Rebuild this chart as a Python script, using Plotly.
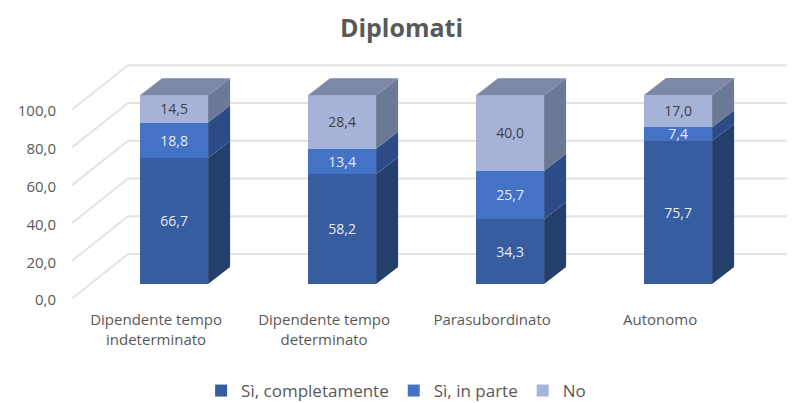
import plotly.graph_objects as go

# ---------------- data ----------------
categories = ["Dipendente tempo indeterminato", "Dipendente tempo determinato",
              "Parasubordinato", "Autonomo"]
tick_labels = ["Dipendente tempo<br>indeterminato", "Dipendente tempo<br>determinato",
               "Parasubordinato", "Autonomo"]
series_names = ["Sì, completamente", "Sì, in parte", "No"]
si_completamente = [66.7, 58.2, 34.3, 75.7]
si_in_parte = [18.8, 13.4, 25.7, 7.4]
no_vals = [14.5, 28.4, 40.0, 17.0]
y_ticks = [0, 20, 40, 60, 80, 100]

# ---------------- style ----------------
FONT = "Open Sans"
front_colors = ["#375C9F", "#4472C4", "#A6B4DA"]
side_colors = ["#243F6C", "#2C4C88", "#6C7996"]
top_color = "#7D88A8"
text_colors = ["#E4EAF5", "#E4EAF5", "#404040"]
grid_color = "#E3E3E3"

W, H = 787, 395           # page body adds an 8px margin
bar_w = 0.405
dx = 0.131      # depth offset in x units
dy = 9.0        # depth offset in y units
wall_front_x, wall_back_x = -0.607, -0.274
wall_front_off, wall_back_off = -7.6, 15.9
x_range = [-0.679, 3.696]
y_range = [-10, 125]

xs = list(range(len(categories)))
series = [si_completamente, si_in_parte, no_vals]

fig = go.Figure()

# front faces
for name, vals, fc, tc in zip(series_names, series, front_colors, text_colors):
    fig.add_trace(go.Bar(
        x=xs, y=vals, name=name, width=bar_w,
        marker=dict(color=fc, line=dict(width=0)),
        text=vals, texttemplate="%{y:.1f}", textposition="inside",
        insidetextanchor="middle",
        textfont=dict(family=FONT, size=16, color=tc),
        hoverinfo="skip",
    ))

# side faces and top faces (pseudo-3D)
bases = [0.0] * len(xs)
for k, (vals, sc) in enumerate(zip(series, side_colors)):
    px, py = [], []
    for i, v in enumerate(vals):
        b, t = bases[i], bases[i] + v
        xr = xs[i] + bar_w / 2
        px += [xr, xr + dx, xr + dx, xr, xr, None]
        py += [b, b + dy, t + dy, t, b, None]
        bases[i] = t
    fig.add_trace(go.Scatter(x=px, y=py, mode="lines", fill="toself",
                             fillcolor=sc, line=dict(width=0, color=sc),
                             showlegend=False, hoverinfo="skip"))

tx, ty = [], []
for i, top in enumerate(bases):
    xl, xr = xs[i] - bar_w / 2, xs[i] + bar_w / 2
    tx += [xl, xl + dx, xr + dx, xr, xl, None]
    ty += [top, top + dy, top + dy, top, top, None]
fig.add_trace(go.Scatter(x=tx, y=ty, mode="lines", fill="toself",
                         fillcolor=top_color, line=dict(width=0, color=top_color),
                         showlegend=False, hoverinfo="skip"))

# walls / gridlines
shapes = []
for v in y_ticks:
    shapes.append(dict(type="line", xref="x", yref="y", layer="below",
                       x0=wall_front_x, y0=v + wall_front_off,
                       x1=wall_back_x, y1=v + wall_back_off,
                       line=dict(color=grid_color, width=2)))
    shapes.append(dict(type="line", xref="x", yref="y", layer="below",
                       x0=wall_back_x, y0=v + wall_back_off,
                       x1=x_range[1], y1=v + wall_back_off,
                       line=dict(color=grid_color, width=2)))

fig.update_layout(
    width=W, height=H,
    margin=dict(l=52, r=0, t=40, b=100, autoexpand=False),
    paper_bgcolor="white", plot_bgcolor="white",
    barmode="stack", separators=",.",
    uniformtext=dict(minsize=10, mode="show"),
    font=dict(family=FONT, size=15, color="#595959"),
    title=dict(text="<b>Diplomati</b>", x=0.5, xanchor="center",
               y=1 - 20 / H, yanchor="middle",
               font=dict(family=FONT, size=25, color="#595959")),
    shapes=shapes,
    legend=dict(orientation="h", x=0.192, xanchor="left",
                y=-(383 - 295) / 255, yanchor="middle",
                font=dict(family=FONT, size=17, color="#595959"),
                itemwidth=30, traceorder="normal"),
    showlegend=True,
)
fig.update_xaxes(range=x_range, tickvals=xs, ticktext=tick_labels,
                 showgrid=False, zeroline=False, showline=False, automargin=False,
                 ticks="", ticklabelshift=-18, ticklabelstandoff=6,
                 tickfont=dict(family=FONT, size=15, color="#595959"),
                 fixedrange=True)
fig.update_yaxes(range=y_range, tickvals=y_ticks, tickformat=".1f",
                 showgrid=False, zeroline=False, showline=False, automargin=False,
                 ticks="", ticklabelshift=16, ticklabelstandoff=3,
                 tickfont=dict(family=FONT, size=15, color="#595959"),
                 fixedrange=True)

fig.write_html("out.html")
